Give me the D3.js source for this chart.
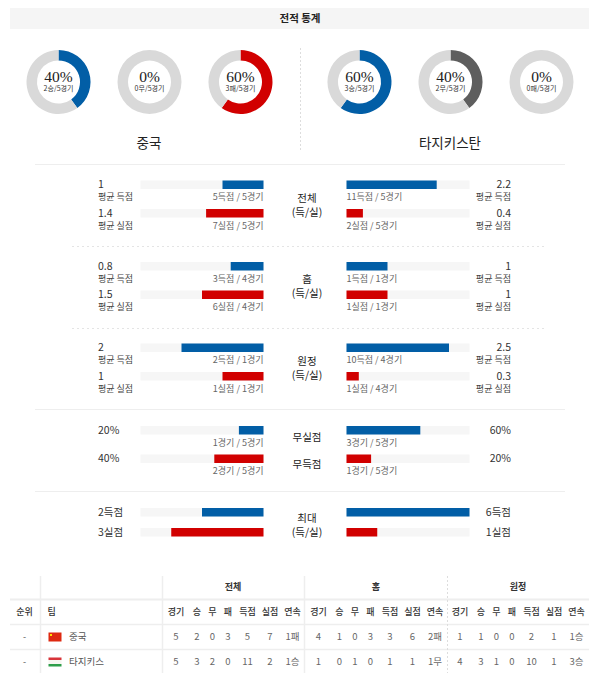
<!DOCTYPE html>
<html>
<head>
<meta charset="utf-8">
<script src="https://cdn.jsdelivr.net/npm/d3@7"></script>
<style>
  body { margin: 0; background: #fff; }
  text { font-family: "Noto Sans CJK KR", sans-serif; }
  .serif { font-family: "Liberation Serif", serif; }
</style>
</head>
<body>
<div id="chart"></div>
<script>
const BLUE = '#025ea6', RED = '#d10000', DARK = '#5e5e5e', GREY = '#d9d9d9', TRACK = '#f6f6f6';

// donuts
const teams = ['중국', '타지키스탄'];
const donutNames = ['승', '무', '패'];
const chinaRecord = [2, 0, 3];
const tajikRecord = [3, 2, 0];
const gamesTotal = 5;

// stat bars
const statTitles = ['전체', '홈', '원정'];
const chinaFor = [1, 0.8, 2];
const chinaAgainst = [1.4, 1.5, 1];
const tajikFor = [2.2, 1, 2.5];
const tajikAgainst = [0.4, 1, 0.3];
const chinaForNote = ['5득점 / 5경기', '3득점 / 4경기', '2득점 / 1경기'];
const chinaAgainstNote = ['7실점 / 5경기', '6실점 / 4경기', '1실점 / 1경기'];
const tajikForNote = ['11득점 / 5경기', '1득점 / 1경기', '10득점 / 4경기'];
const tajikAgainstNote = ['2실점 / 5경기', '1실점 / 1경기', '1실점 / 4경기'];

const cleanPct = [20, 60];
const blankPct = [40, 20];
const cleanNote = ['1경기 / 5경기', '3경기 / 5경기'];
const blankNote = ['2경기 / 5경기', '1경기 / 5경기'];

const maxFor = [2, 6];
const maxAgainst = [3, 1];

// table
const tableGroups = ['전체', '홈', '원정'];
const tableCols = ['경기', '승', '무', '패', '득점', '실점', '연속'];
const tableTeams = ['중국', '타지키스'];
const chinaRow = [5, 2, 0, 3, 5, 7, '1패', 4, 1, 0, 3, 3, 6, '2패', 1, 1, 0, 0, 2, 1, '1승'];
const tajikRow = [5, 3, 2, 0, 11, 2, '1승', 1, 0, 1, 0, 1, 1, '1무', 4, 3, 1, 0, 10, 1, '3승'];

const svg = d3.select('#chart').append('svg')
  .attr('width', 600)
  .attr('height', 685)
  .style('display', 'block');

const addText = (x, y, str, size, color, anchor = 'middle', cls = null, weight = 400) =>
  svg.append('text')
    .attr('x', x).attr('y', y)
    .attr('dy', '0.35em')
    .attr('text-anchor', anchor)
    .attr('class', cls)
    .attr('font-size', size)
    .attr('font-weight', weight)
    .attr('fill', color)
    .text(str);

const addLine = (x1, y1, x2, y2, color, w = 1, dash = null) =>
  svg.append('line')
    .attr('x1', x1).attr('y1', y1).attr('x2', x2).attr('y2', y2)
    .attr('stroke', color).attr('stroke-width', w)
    .attr('stroke-dasharray', dash);

// title band
svg.append('rect').attr('x', 10).attr('y', 8).attr('width', 579).attr('height', 21).attr('fill', '#f5f5f5');
addText(300, 18.5, '전적 통계', 10.5, '#222', 'middle', null, 700);

// donuts
const arc = d3.arc().innerRadius(21.5).outerRadius(32);
const pie = d3.pie().sort(null);
const drawDonut = (cx, count, colour, name) => {
  const g = svg.append('g').attr('transform', `translate(${cx},82)`);
  g.selectAll('path')
    .data(pie([count, gamesTotal - count]))
    .enter()
    .append('path')
    .attr('d', arc)
    .attr('fill', (d, i) => i === 0 ? colour : GREY);
  const pct = d3.format('.0%')(count / gamesTotal);
  addText(cx, 76.5, pct, 15.5, '#222', 'middle', 'serif');
  addText(cx, 89, `${count}${name}/${gamesTotal}경기`, 7, '#333');
};
const donutX = d3.scalePoint().domain(d3.range(3)).range([58.5, 240.5]);
const donutXRight = d3.scalePoint().domain(d3.range(3)).range([359.5, 541.5]);
const recordColours = [BLUE, DARK, RED];
chinaRecord.forEach((v, i) => drawDonut(donutX(i), v, recordColours[i], donutNames[i]));
tajikRecord.forEach((v, i) => drawDonut(donutXRight(i), v, recordColours[i], donutNames[i]));

addLine(300.5, 48, 300.5, 152, '#ddd', 1, '2,2');
addText(149, 143.5, teams[0], 13.5, '#222');
addText(450, 143.5, teams[1], 13.5, '#222');

// separators
[164.5, 409.5, 491.5].forEach(y => addLine(35, y, 565, y, '#eee', 1));
[246.5, 328.5].forEach(y => addLine(72, y, 546, y, '#e4e4e4', 1, '2,3'));

// bars
const leftX = d3.scaleLinear().range([263.5, 140.5]);
const rightX = d3.scaleLinear().range([346.5, 469.5]);

const drawBar = (side, y, value, domainMax, colour) => {
  const scale = (side === 'left' ? leftX : rightX).copy().domain([0, domainMax]).clamp(true);
  const barH = 8.5;
  svg.append('rect')
    .attr('x', side === 'left' ? 140.5 : 346.5)
    .attr('y', y).attr('width', 123).attr('height', barH)
    .attr('fill', TRACK);
  svg.append('rect')
    .attr('x', Math.min(scale(0), scale(value)))
    .attr('y', y)
    .attr('width', Math.abs(scale(value) - scale(0)))
    .attr('height', barH)
    .attr('fill', colour);
};

const drawNote = (side, y, str) => {
  if (side === 'left') addText(263.5, y, str, 9, '#666', 'end');
  else addText(346.5, y, str, 9, '#666', 'start');
};

const drawValue = (side, y, str, size = 10.5) => {
  if (side === 'left') addText(98, y, str, size, '#333', 'start');
  else addText(511, y, str, size, '#333', 'end');
};

const groupY = [180.5, 262, 343.5];
const sides = [
  { side: 'left', f: chinaFor, a: chinaAgainst, fn: chinaForNote, an: chinaAgainstNote },
  { side: 'right', f: tajikFor, a: tajikAgainst, fn: tajikForNote, an: tajikAgainstNote }
];
sides.forEach(s => {
  groupY.forEach((y, i) => {
    drawBar(s.side, y, s.f[i], 3, BLUE);
    drawBar(s.side, y + 28.5, s.a[i], 3, RED);
    drawNote(s.side, y + 16.5, s.fn[i]);
    drawNote(s.side, y + 45, s.an[i]);
    drawValue(s.side, y + 4, String(s.f[i]));
    drawValue(s.side, y + 32.5, String(s.a[i]));
    addText(s.side === 'left' ? 98 : 511, y + 16.5, '평균 득점', 9, '#444', s.side === 'left' ? 'start' : 'end');
    addText(s.side === 'left' ? 98 : 511, y + 45, '평균 실점', 9, '#444', s.side === 'left' ? 'start' : 'end');
  });
});
statTitles.forEach((t, i) => {
  addText(307, groupY[i] + 17.5, t, 10.5, '#222');
  addText(307, groupY[i] + 31.5, '(득/실)', 10.5, '#222');
});

// clean sheet / blank rows
sides.forEach((s, i) => {
  drawBar(s.side, 426, cleanPct[i], 100, BLUE);
  drawBar(s.side, 454.5, blankPct[i], 100, RED);
  drawNote(s.side, 442.5, cleanNote[i]);
  drawNote(s.side, 471, blankNote[i]);
  drawValue(s.side, 430.5, cleanPct[i] + '%');
  drawValue(s.side, 458.5, blankPct[i] + '%');
  // bar is full at 4 goals
  drawBar(s.side, 508, maxFor[i], 4, BLUE);
  drawBar(s.side, 528, maxAgainst[i], 4, RED);
  drawValue(s.side, 512, maxFor[i] + '득점');
  drawValue(s.side, 532, maxAgainst[i] + '실점');
});
addText(307, 437, '무실점', 10.5, '#222');
addText(307, 464.5, '무득점', 10.5, '#222');
addText(307, 518, '최대', 10.5, '#222');
addText(307, 532, '(득/실)', 10.5, '#222');

// table
[599.5, 624.5, 649.5].forEach((y, i) => addLine(10, y, 589, y, '#eee', i === 0 ? 2 : 1.5));
addLine(40.5, 576, 40.5, 673, '#eee', 1.5);
addLine(162.5, 576, 162.5, 673, '#eee', 1.5);
addLine(304.5, 576, 304.5, 673, '#eee', 1.5);
addLine(447.5, 576, 447.5, 673, '#ddd', 1, '2,2');

addText(24.5, 612, '순위', 9, '#333', 'middle', null, 500);
addText(47.5, 612, '팀', 9, '#333', 'start', null, 500);

const groupX = [233, 376, 518];
tableGroups.forEach((g, i) => addText(groupX[i], 587, g, 9, '#333', 'middle', null, 700));

const colOffset = [0, 21, 36.5, 52, 71.5, 94, 116.5];
const colStart = [176, 318.5, 460];
const colX = i => colStart[Math.floor(i / 7)] + colOffset[i % 7];

d3.range(21).forEach(i => {
  addText(colX(i), 612, tableCols[i % 7], 9, '#333', 'middle', null, 500);
  addText(colX(i), 637, chinaRow[i], 9.5, '#666');
  addText(colX(i), 661.5, tajikRow[i], 9.5, '#666');
});

[637, 661.5].forEach((y, i) => {
  addText(24.5, y, '-', 9, '#555');
  addText(69, y, tableTeams[i], 9.5, '#555', 'start');
});

// flags
svg.append('rect').attr('x', 48.5).attr('y', 632.5).attr('width', 13).attr('height', 9).attr('fill', '#de2910');
svg.append('rect').attr('x', 50).attr('y', 634).attr('width', 2).attr('height', 2).attr('fill', '#ffde00');
svg.append('rect').attr('x', 48.5).attr('y', 657.5).attr('width', 13).attr('height', 2.5).attr('fill', '#d8343a');
svg.append('rect').attr('x', 48.5).attr('y', 660).attr('width', 13).attr('height', 4).attr('fill', '#f6f6f0');
svg.append('rect').attr('x', 48.5).attr('y', 664).attr('width', 13).attr('height', 2.5).attr('fill', '#2e9e4a');
</script>
</body>
</html>
